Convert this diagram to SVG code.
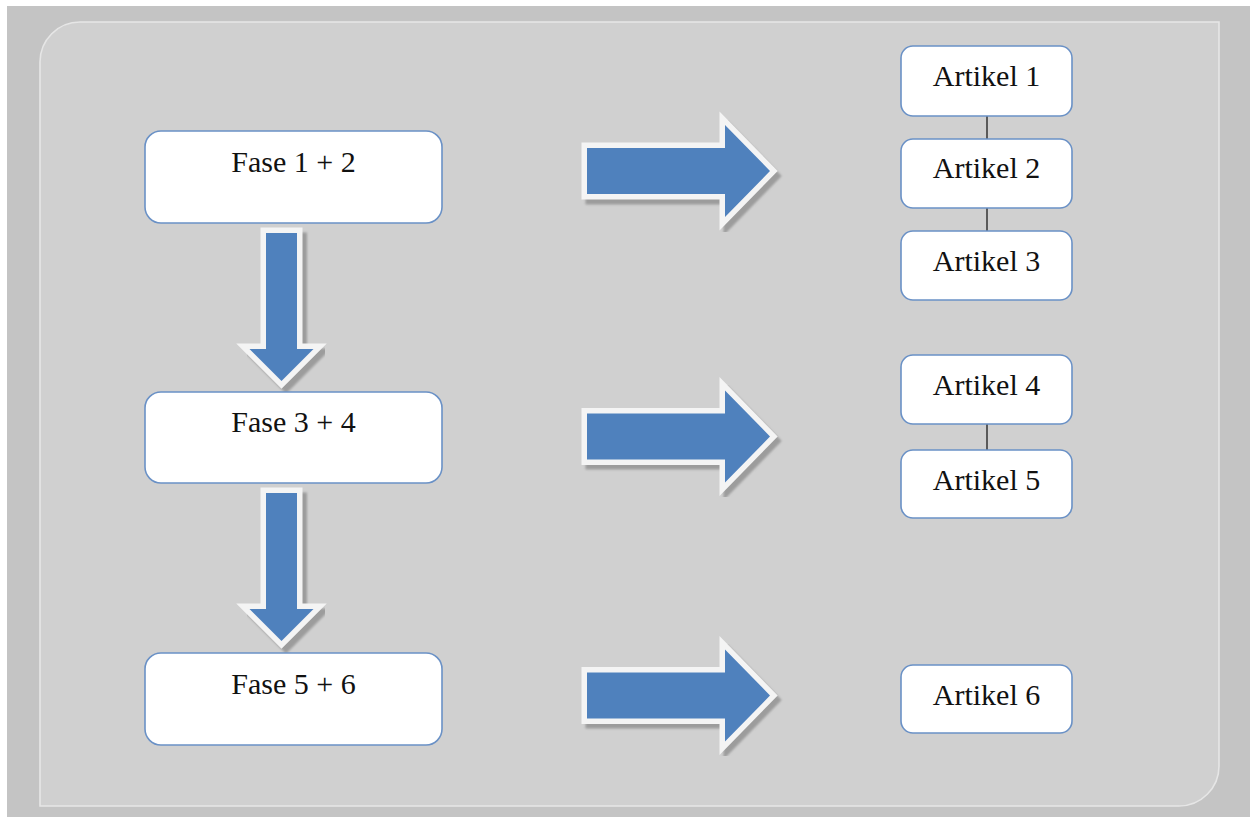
<svg xmlns="http://www.w3.org/2000/svg" width="1250" height="817" viewBox="0 0 1250 817">
  <defs>
    <style>
      .box { fill: #ffffff; stroke: #6a91c6; stroke-width: 1.6; }
      .lbl { font-family: "Liberation Serif", "Times New Roman", serif; font-size: 30px; fill: #111111; text-anchor: middle; }
      .arrow { fill: #4f81bd; stroke: #f4f4f4; stroke-width: 11; stroke-linejoin: miter; paint-order: stroke; }
      .shadow { fill: #9c9c9c; stroke: #9c9c9c; stroke-width: 11; stroke-linejoin: miter; }
      .link { stroke: #333333; stroke-width: 1.5; }
    </style>
    <filter id="soft" x="-10%" y="-10%" width="120%" height="120%">
      <feGaussianBlur stdDeviation="1.2"/>
    </filter>
    <!-- block arrow shapes, drawn at origin -->
    <polygon id="right-arrow" points="0,-23 138,-23 138,-46 183,0 138,46 138,23 0,23"/>
    <polygon id="down-arrow" points="-15.5,0 15.5,0 15.5,116 32,116 0,148 -32,116 -15.5,116"/>
  </defs>

  <!-- background and panel -->
  <rect x="0" y="0" width="1250" height="817" fill="#ffffff"/>
  <rect x="7" y="6" width="1243" height="811" fill="#c4c4c4"/>
  <path d="M40,62 A40,40 0 0 1 80,22 L1219,22 L1219,766 A40,40 0 0 1 1179,806 L40,806 Z" fill="#d0d0d0" stroke="#e6e6e6" stroke-width="1.6"/>

  <!-- connectors -->
  <g id="connectors">
    <!-- down arrows between phases -->
    <g id="down-1">
      <use href="#down-arrow" x="286" y="238" class="shadow" filter="url(#soft)"/>
      <use href="#down-arrow" x="281.5" y="233" class="arrow"/>
    </g>
    <g id="down-2">
      <use href="#down-arrow" x="286" y="498" class="shadow" filter="url(#soft)"/>
      <use href="#down-arrow" x="281.5" y="493" class="arrow"/>
    </g>
    <!-- right arrows from phases to articles -->
    <g id="right-1">
      <use href="#right-arrow" x="591" y="176" class="shadow" filter="url(#soft)"/>
      <use href="#right-arrow" x="587" y="171" class="arrow"/>
    </g>
    <g id="right-2">
      <use href="#right-arrow" x="591" y="441" class="shadow" filter="url(#soft)"/>
      <use href="#right-arrow" x="587" y="436.5" class="arrow"/>
    </g>
    <g id="right-3">
      <use href="#right-arrow" x="591" y="700" class="shadow" filter="url(#soft)"/>
      <use href="#right-arrow" x="587" y="695.5" class="arrow"/>
    </g>
    <!-- article links -->
    <line class="link" x1="987" y1="116" x2="987" y2="139"/>
    <line class="link" x1="987" y1="208" x2="987" y2="231"/>
    <line class="link" x1="987" y1="424" x2="987" y2="450"/>
  </g>

  <!-- phase nodes -->
  <g id="fase-12">
    <rect class="box" x="145" y="131" width="297" height="92" rx="16"/>
    <text class="lbl" x="293.5" y="172">Fase 1 + 2</text>
  </g>
  <g id="fase-34">
    <rect class="box" x="145" y="392" width="297" height="91" rx="16"/>
    <text class="lbl" x="293.5" y="432">Fase 3 + 4</text>
  </g>
  <g id="fase-56">
    <rect class="box" x="145" y="653" width="297" height="92" rx="16"/>
    <text class="lbl" x="293.5" y="694">Fase 5 + 6</text>
  </g>

  <!-- article nodes -->
  <g id="artikel-1">
    <rect class="box" x="901" y="46" width="171" height="70" rx="12"/>
    <text class="lbl" x="986.5" y="86">Artikel 1</text>
  </g>
  <g id="artikel-2">
    <rect class="box" x="901" y="139" width="171" height="69" rx="12"/>
    <text class="lbl" x="986.5" y="178">Artikel 2</text>
  </g>
  <g id="artikel-3">
    <rect class="box" x="901" y="231" width="171" height="69" rx="12"/>
    <text class="lbl" x="986.5" y="271">Artikel 3</text>
  </g>
  <g id="artikel-4">
    <rect class="box" x="901" y="355" width="171" height="69" rx="12"/>
    <text class="lbl" x="986.5" y="395">Artikel 4</text>
  </g>
  <g id="artikel-5">
    <rect class="box" x="901" y="450" width="171" height="68" rx="12"/>
    <text class="lbl" x="986.5" y="490">Artikel 5</text>
  </g>
  <g id="artikel-6">
    <rect class="box" x="901" y="665" width="171" height="68" rx="12"/>
    <text class="lbl" x="986.5" y="705">Artikel 6</text>
  </g>
</svg>
